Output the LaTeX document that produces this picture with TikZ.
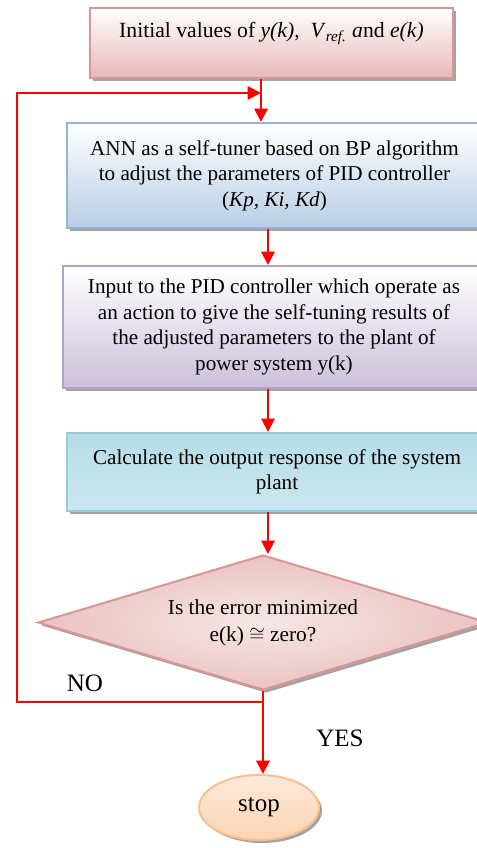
\documentclass[tikz,border=0pt]{standalone}
\usepackage{fontspec}
\setmainfont{Liberation Serif}
\usetikzlibrary{shapes.geometric,arrows.meta,shadows}
\definecolor{rosebord}{HTML}{D99694}
\definecolor{rosefond}{HTML}{E6B8B7}
\definecolor{rosepale}{HTML}{F2DCDB}
\definecolor{bleubord}{HTML}{95B3D7}
\definecolor{bleufond}{HTML}{B9CDE5}
\definecolor{mauvebord}{HTML}{B3A2C7}
\definecolor{mauvefond}{HTML}{CCC0DA}
\definecolor{cyanbord}{HTML}{93CDDD}
\definecolor{cyanfond}{HTML}{B6DDE8}
\definecolor{cyanpale}{HTML}{DDF0F5}
\definecolor{pechebord}{HTML}{FAC090}
\definecolor{pechefond}{HTML}{FBD4B4}
\definecolor{pechepale}{HTML}{FDEADA}
\begin{document}
\begin{tikzpicture}[x=0.6pt,y=-0.6pt]
\tikzset{boite/.style={draw, rectangle, line width=1.2pt, inner sep=0pt, align=center,
  font=\fontsize{12.7}{15.3}\selectfont,
  drop shadow={shadow xshift=1.8pt, shadow yshift=-1.8pt, fill=black!45, opacity=.8}},
  fleche/.style={draw=red, line width=1.2pt, -{Triangle[length=8pt,width=8pt]}}}
\useasboundingbox (0,0) rectangle (477,848);
\clip (0,0) rectangle (477,848);
\node[boite, draw=rosebord, top color=white, bottom color=rosefond, font=\fontsize{13}{15}\selectfont,
  minimum width=363*0.6pt, minimum height=70*0.6pt, text height=18pt, text depth=24pt] (init) at (271.5,43)
  {Initial values of \textit{y(k)},\ \ \textit{V}\textsubscript{\textit{ref.}} \textit{a}nd \textit{e(k)}};
\node[boite, draw=bleubord, top color=white, bottom color=bleufond,
  minimum width=415*0.6pt, minimum height=105*0.6pt] (ann) at (274.5,175.5)
  {ANN as a self-tuner based on BP algorithm\\ to adjust the parameters of PID controller\\ (\textit{Kp, Ki, Kd})};
\node[boite, draw=mauvebord, top color=white, bottom color=mauvefond,
  minimum width=422*0.6pt, minimum height=122*0.6pt] (pid) at (274,327)
  {Input to the PID controller which operate as\\ an action to give the self-tuning results of\\ the adjusted parameters to the plant of\\ power system y(k)};
\node[boite, draw=cyanbord, top color=cyanfond, middle color=cyanpale, bottom color=cyanfond!70!white,
  minimum width=420*0.6pt, minimum height=78*0.6pt] (calc) at (277,472)
  {Calculate the output response of the system\\ plant};
\node[boite, diamond, draw=rosebord, shading=radial, inner color=rosepale!70!white, outer color=rosefond!85!white,
  font=\fontsize{12.8}{16.2}\selectfont, aspect=3.3,
  minimum width=450*0.6pt, minimum height=135*0.6pt] (dec) at (263,622.5)
  {Is the error minimized\\ e(k) $\cong$ zero?};
\node[boite, ellipse, draw=pechebord, top color=pechepale, bottom color=pechefond, font=\fontsize{15}{18}\selectfont,
  minimum width=120*0.6pt, minimum height=65*0.6pt] (stop) at (259,807.5) {stop};
\node[font=\fontsize{15}{18}\selectfont] (no) at (85,683) {NO};
\node[font=\fontsize{15}{18}\selectfont] (yes) at (340,738) {YES};
\coordinate (join) at (261,93);
\coordinate (axis) at (268,0);
\coordinate (split) at (263,702);
\coordinate (corner) at (17,93);
\draw[fleche] (join |- init.south) -- (join |- ann.north);
\draw[fleche] (axis |- ann.south) -- (axis |- pid.north);
\draw[fleche] (axis |- pid.south) -- (axis |- calc.north);
\draw[fleche] (axis |- calc.south) -- (axis |- dec.north);
\draw[fleche] (dec.south) -- (dec.south |- stop.north);
\draw[fleche] (split) -| (corner) -- (join);
\end{tikzpicture}
\end{document}
